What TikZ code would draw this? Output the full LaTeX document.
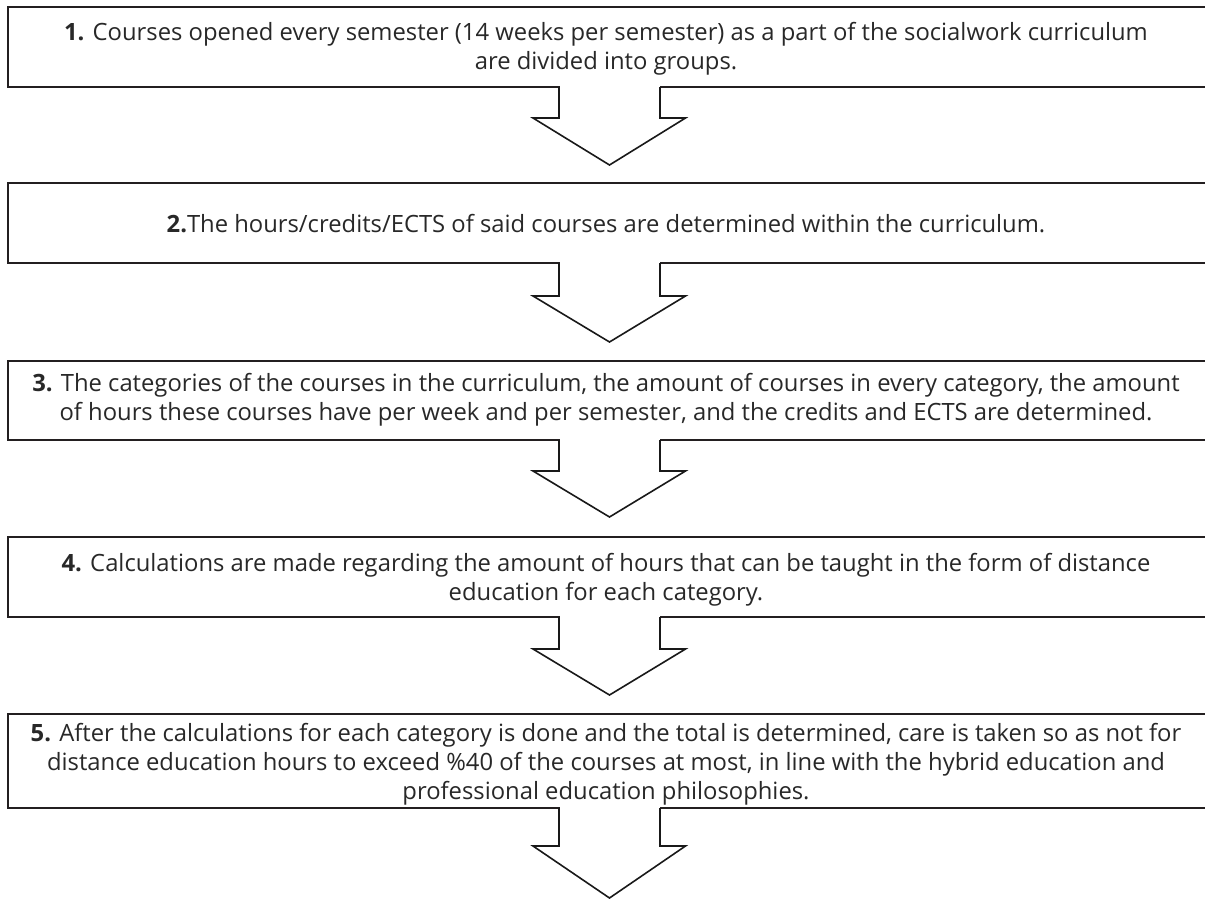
\documentclass[tikz,border=0pt]{standalone}
\usepackage{fontspec}
\setmainfont{Open Sans}
\usetikzlibrary{calc}
\definecolor{boxc}{RGB}{35,31,32}
\definecolor{txtc}{RGB}{40,40,40}
\begin{document}
\begin{tikzpicture}[x=1pt,y=-1pt,
  stepbox/.style={draw=boxc, line width=2.5pt, rectangle, minimum width=1215pt, anchor=north west, inner sep=0pt, outer sep=0pt},
  steptext/.style={align=center, text=txtc, font=\fontsize{23.8}{28.8}\selectfont, inner sep=0pt},
  blockarrow/.style={draw=black!90, line width=1.6pt, line join=miter}]
\clip (0,0) rectangle (1205,900);
\useasboundingbox (0,0) rectangle (1205,900);
\fill[white] (0,0) rectangle (1205,900);

\node[stepbox, minimum height=80pt] (b1) at (8,7) {};
\node[stepbox, minimum height=80pt] (b2) at (8,183) {};
\node[stepbox, minimum height=79pt] (b3) at (8,361) {};
\node[stepbox, minimum height=80pt] (b4) at (8,537) {};
\node[stepbox, minimum height=94pt] (b5) at (8,714) {};

\node[steptext] (t1) at (606,49) {\textbf{1.} Courses opened every semester (14 weeks per semester) as a part of the socialwork curriculum\\ are divided into groups.};
\node[steptext] (t2) at (606,224) {\textbf{2.}The hours/credits/ECTS of said courses are determined within the curriculum.};
\node[steptext] (t3) at (606,400) {\textbf{3.} The categories of the courses in the curriculum, the amount of courses in every category, the amount\\ of hours these courses have per week and per semester, and the credits and ECTS are determined.};
\node[steptext] (t4) at (606,580) {\textbf{4.} Calculations are made regarding the amount of hours that can be taught in the form of distance\\ education for each category.};
\node[steptext] (t5) at (606,764) {\textbf{5.} After the calculations for each category is done and the total is determined, care is taken so as not for\\ distance education hours to exceed \%40 of the courses at most, in line with the hybrid education and\\ professional education philosophies.};

\foreach \b/\s/\d in {b1/31/78, b2/33/79, b3/31/77, b4/32/78, b5/38/90} {
  \coordinate (c) at ($(\b.south west)+(601.5,0)$);
  \fill[white] ($(c)+(-50,-2)$) rectangle ($(c)+(50,2)$);
  \draw[blockarrow] ($(c)+(-50.5,0)$) -- ++(0,\s) -- ++(-26,0) -- ($(c)+(0,\d)$) -- ($(c)+(76,\s)$) -- ++(-25.5,0) -- ($(c)+(50.5,0)$);
}
\end{tikzpicture}
\end{document}
